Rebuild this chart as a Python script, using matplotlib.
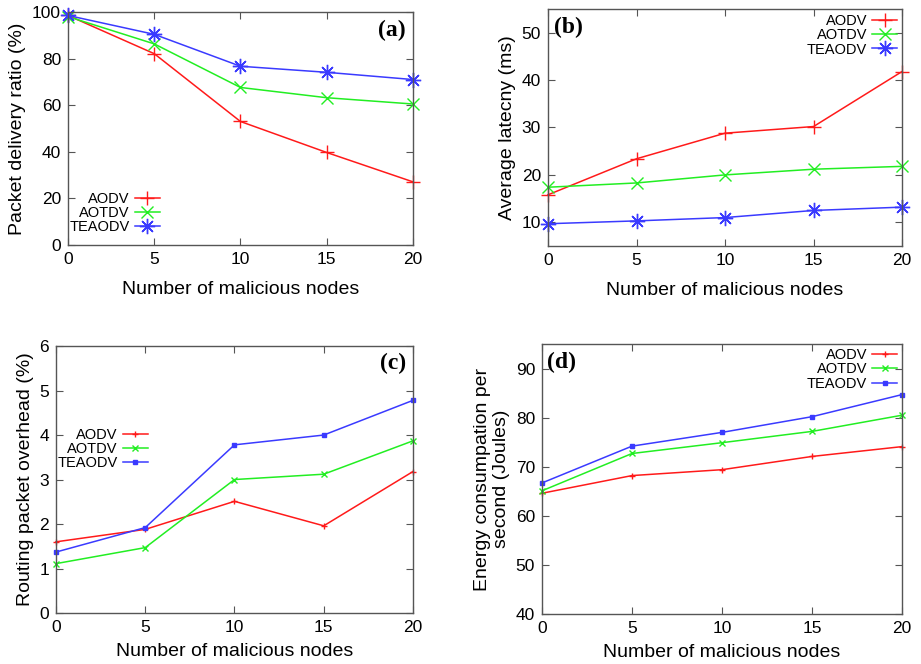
import matplotlib
matplotlib.use("Agg")
import matplotlib.pyplot as plt

plt.rcParams['font.family'] = ['Liberation Sans', 'DejaVu Sans']

nodes = [0, 5, 10, 15, 20]
series = ['AODV', 'AOTDV', 'TEAODV']

pdr_aodv = [98.5, 82.1, 53.0, 39.7, 27.1]
pdr_aotdv = [98.0, 86.3, 67.6, 63.2, 60.5]
pdr_teaodv = [98.5, 90.4, 76.7, 74.1, 71.0]

lat_aodv = [15.8, 23.4, 28.8, 30.2, 41.8]
lat_aotdv = [17.4, 18.3, 20.0, 21.2, 21.8]
lat_teaodv = [9.7, 10.3, 11.0, 12.5, 13.2]

rpo_aodv = [1.60, 1.88, 2.51, 1.96, 3.18]
rpo_aotdv = [1.11, 1.47, 3.00, 3.12, 3.87]
rpo_teaodv = [1.37, 1.92, 3.78, 4.00, 4.78]

en_aodv = [64.6, 68.2, 69.4, 72.1, 74.1]
en_aotdv = [65.1, 72.7, 74.9, 77.2, 80.5]
en_teaodv = [66.7, 74.2, 77.0, 80.2, 84.7]

colors = ['#ff1a1a', '#22ee22', '#3a3aff']
star = (8, 2, 0)

fig = plt.figure(figsize=(9.21, 6.64), dpi=100)


def panel(rect, data, ylim, yticks, ylabel, tag, tag_xy, tag_ha, big, leg_loc, leg_anchor, xpad):
    ax = fig.add_axes(rect)
    if big:
        markers = ['+', 'x', star]
        sizes = [10, 9, 11]
    else:
        markers = ['+', 'x', 's']
        sizes = [5, 4, 3]
    for vals, name, c, m, s in zip(data, series, colors, markers, sizes):
        ax.plot(nodes, vals, color=c, lw=1.1, marker=m, ms=s, mew=1.0,
                label=name, clip_on=False)
    ax.set_xlim(0, 20)
    ax.set_ylim(*ylim)
    ax.set_xticks(nodes)
    ax.set_yticks(yticks)
    ax.tick_params(direction='in', top=True, right=True, length=5,
                   labelsize=12.5, color='#555555', pad=5)
    for sp in ax.spines.values():
        sp.set_color('#555555')
        sp.set_linewidth(1.0)
    ax.set_xlabel('Number of malicious nodes', fontsize=14, labelpad=xpad)
    ax.set_ylabel(ylabel, fontsize=14, labelpad=4)
    ax.text(tag_xy[0], tag_xy[1], tag, transform=ax.transAxes, ha=tag_ha, va='center',
            fontsize=17, fontweight='bold', family='Liberation Serif')
    ax.legend(loc=leg_loc, bbox_to_anchor=leg_anchor, frameon=False, markerfirst=False,
              fontsize=10.5, handlelength=1.7, handletextpad=0.35, labelspacing=0.02,
              borderpad=0.1, borderaxespad=0.0)
    return ax


panel([0.0738, 0.631, 0.3746, 0.351], [pdr_aodv, pdr_aotdv, pdr_teaodv],
      (0, 100), [0, 20, 40, 60, 80, 100], 'Packet delivery ratio (%)',
      '(a)', (0.94, 0.92), 'center', True, 'lower left', (0.0, 0.04), 10)

panel([0.595, 0.6295, 0.3844, 0.357], [lat_aodv, lat_aotdv, lat_teaodv],
      (5, 55), [10, 20, 30, 40, 50], 'Average latecny (ms)',
      '(b)', (0.017, 0.924), 'left', True, 'upper right', (0.99, 0.985), 10)

panel([0.0608, 0.0768, 0.3876, 0.402], [rpo_aodv, rpo_aotdv, rpo_teaodv],
      (0, 6), [0, 1, 2, 3, 4, 5, 6], 'Routing packet overhead (%)',
      '(c)', (0.944, 0.936), 'center', False, 'upper left', (0.0, 0.7), 6)

panel([0.5885, 0.0753, 0.391, 0.4066], [en_aodv, en_aotdv, en_teaodv],
      (40, 95), [40, 50, 60, 70, 80, 90], 'Energy consumpation per\nsecond (Joules)',
      '(d)', (0.014, 0.933), 'left', False, 'upper right', (0.99, 0.99), 6)

fig.savefig('out.png', dpi=100)
